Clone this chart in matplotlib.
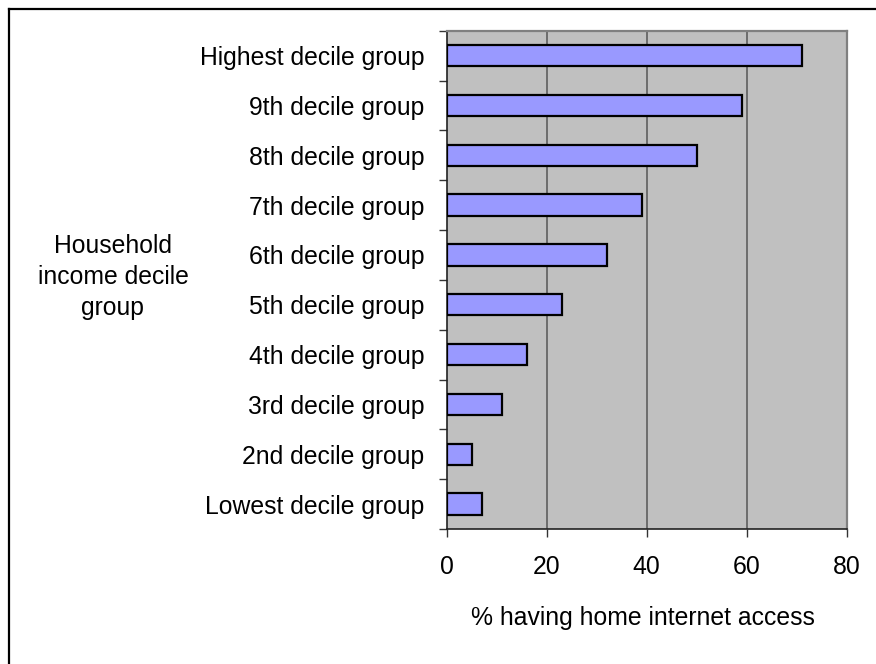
import matplotlib
matplotlib.use("Agg")
import matplotlib.pyplot as plt
from matplotlib.lines import Line2D
import numpy as np

categories = ["Lowest decile group", "2nd decile group", "3rd decile group",
              "4th decile group", "5th decile group", "6th decile group",
              "7th decile group", "8th decile group", "9th decile group",
              "Highest decile group"]
values = [7, 5, 11, 16, 23, 32, 39, 50, 59, 71]
xticks = [0, 20, 40, 60, 80]
xlabel = "% having home internet access"
ylabel = "Household\nincome decile\ngroup"

plt.rcParams['font.family'] = ['Liberation Sans', 'DejaVu Sans']
FS = 17.8

W, H = 876, 664
fig = plt.figure(figsize=(W / 100, H / 100), dpi=100)
fig.patch.set_facecolor("white")

L, R, T, B = 446.7, 846.7, 30.7, 529.0
ax = fig.add_axes([L / W, 1 - B / H, (R - L) / W, (B - T) / H])
ax.set_facecolor("#C0C0C0")

y = np.arange(len(categories))
ax.barh(y, values, height=0.43, color="#9999FF", edgecolor="black",
        linewidth=1.6, zorder=3)

ax.set_xlim(0, 80)
ax.set_ylim(-0.5, len(categories) - 0.5)
ax.set_xticks(xticks)
ax.set_xticklabels([str(v) for v in xticks], fontsize=FS)
ax.set_yticks(y)
ax.set_yticklabels(categories, fontsize=FS)
ax.set_yticks(np.arange(-0.5, len(categories), 1), minor=True)

ax.tick_params(axis="y", which="major", length=0, pad=16)
ax.tick_params(axis="y", which="minor", length=6, width=1, color="#333333",
               direction="out")
ax.tick_params(axis="x", which="major", length=6, width=1, color="#333333",
               direction="out", pad=13)

for gx in xticks[1:-1]:
    ax.axvline(gx, color="#555555", linewidth=1.1, zorder=1)

for s in ["left", "bottom"]:
    ax.spines[s].set_color("#222222")
    ax.spines[s].set_linewidth(1.2)
for s in ["top", "right"]:
    ax.spines[s].set_color("#808080")
    ax.spines[s].set_linewidth(1.6)

fig.text(643 / W, 1 - 618 / H, xlabel, fontsize=FS, ha="center", va="center")
fig.text(113 / W, 1 - 277 / H, ylabel, fontsize=FS, ha="center", va="center",
         linespacing=1.36, multialignment="center")

# outer frame (left and top edges visible)
fig.add_artist(Line2D([8.5 / W, 8.5 / W], [0, 1 - 8.5 / H], color="black",
                      linewidth=1.6, transform=fig.transFigure))
fig.add_artist(Line2D([8.5 / W, 1], [1 - 8.5 / H, 1 - 8.5 / H], color="black",
                      linewidth=1.6, transform=fig.transFigure))

fig.savefig("out.png", dpi=100)
